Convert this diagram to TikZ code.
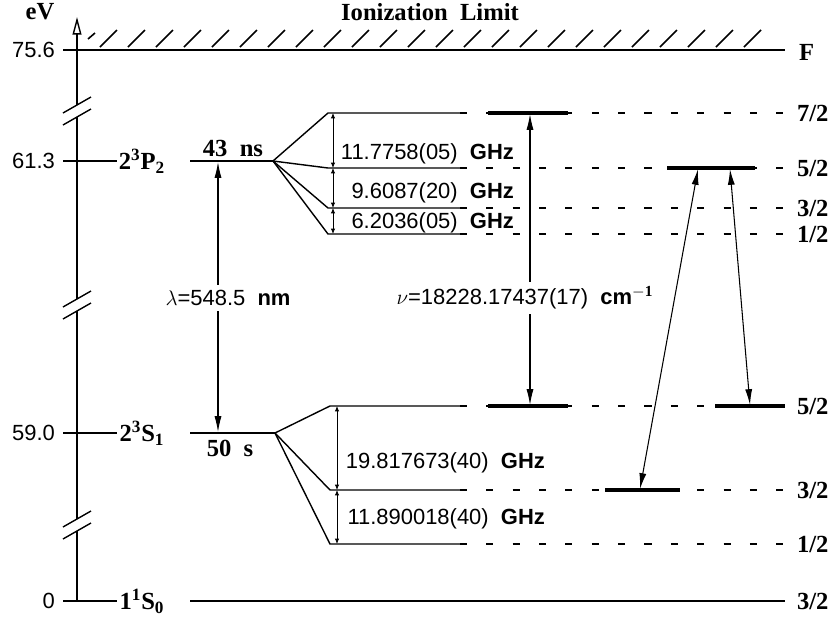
\documentclass[tikz,border=0pt]{standalone}
\usepackage{fontspec}
\setmainfont{Liberation Serif}
\newfontfamily\numfont{Liberation Sans}
\usetikzlibrary{arrows.meta, positioning}

\begin{document}
\begin{tikzpicture}[x=0.02cm, y=-0.02cm,
        lvl/.style={draw, line width=0.8pt},
        bar/.style={draw, line width=2pt},
        hfdash/.style={draw, line width=0.8pt, dash pattern=on 4pt off 11pt},
        split/.style={draw, line width=0.5pt, arrows={Latex[length=3pt,width=2.5pt]-Latex[length=3pt,width=2.5pt]}},
        trans/.style={draw, line width=0.6pt, arrows={Latex[length=9pt,width=4pt]-Latex[length=9pt,width=4pt]}},
        lab/.style={font=\fontsize{14}{16}\selectfont\bfseries, inner sep=1pt},
        num/.style={font=\fontsize{12.5}{15}\selectfont\numfont, inner sep=1pt}]

        \useasboundingbox (0,0) rectangle (840,619);

        % energy axis with breaks
        \coordinate (ax-bot) at (77,601);
        \coordinate (ax-top) at (77,17);
        \draw[line width=0.8pt] (ax-bot) -- (77,531) (77,519) -- (77,311) (77,299) -- (77,117);
        \draw[line width=0.8pt, -{Triangle[open,length=10pt,width=5pt]}] (77,105) -- (ax-top);
        \foreach \yb in {113,307,527} {
            \draw[line width=0.8pt] (63,\yb) -- (91,\yb-16);
            \draw[line width=0.8pt] (63,\yb+12) -- (91,\yb-4);
        }

        \node[lab] (ev) at (40,12) {eV};
        \node[num, anchor=east] (e756) at (57,50) {75.6};
        \node[num, anchor=east] (e613) at (57,161) {61.3};
        \node[num, anchor=east] (e590) at (57,433) {59.0};
        \node[num, anchor=east] (e0) at (57,601) {0};

        % ionization limit
        \coordinate (ion-l) at (63,50);
        \coordinate (ion-r) at (785,50);
        \path[lvl] (ion-l) -- (ion-r);
        \foreach \x in {100,128,...,770}
            \draw[line width=0.9pt] (\x,47) -- (\x+17,30);
        \draw[line width=0.9pt] (88,39) -- (95,33);
        \node[lab] (ion) at (430,12) {Ionization~ Limit};
        \node[lab, anchor=west] (fhead) at (797,52) {F};

        % fine structure levels
        \coordinate (t-p) at (63,161);
        \coordinate (t-s) at (63,433);
        \coordinate (t-g) at (63,601);
        \node[lab] (p2) at (142,161) {2$^{\mathbf{3}}$P$_{\mathbf{2}}$};
        \node[lab] (s1) at (142,433) {2$^{\mathbf{3}}$S$_{\mathbf{1}}$};
        \node[lab] (s0) at (142,601) {1$^{\mathbf{1}}$S$_{\mathbf{0}}$};
        \path[lvl] (t-p) -- (p2.west);
        \path[lvl] (t-s) -- (s1.west);
        \path[lvl] (t-g) -- (s0.west);

        \coordinate (p-in) at (190,161);
        \coordinate (p) at (273,161);
        \coordinate (s-in) at (190,433);
        \coordinate (s) at (275,433);
        \coordinate (g-in) at (190,601);
        \coordinate (g-out) at (785,601);
        \path[lvl] (p-in) -- (p);
        \path[lvl] (s-in) -- (s);
        \path[lvl] (g-in) -- (g-out);
        \node[lab] (tp) at (233,148) {43~~ns};
        \node[lab] (ts) at (230,448) {50~~s};

        % hyperfine levels of 2^3P_2
        \foreach \n/\y in {7/113, 5/168, 3/208, 1/234} {
            \coordinate (p\n) at (328,\y);
            \coordinate (p\n-e) at (460,\y);
            \coordinate (p\n-f) at (790,\y);
            \path[lvl] (p) -- (p\n) -- (p\n-e);
            \path[hfdash] (p\n-e) -- (p\n-f);
        }
        % hyperfine levels of 2^3S_1
        \foreach \n/\y in {5/406, 3/490, 1/544} {
            \coordinate (s\n) at (330,\y);
            \coordinate (s\n-e) at (460,\y);
            \coordinate (s\n-f) at (790,\y);
            \path[lvl] (s) -- (s\n) -- (s\n-e);
            \path[hfdash] (s\n-e) -- (s\n-f);
        }

        \node[lab, anchor=west] (fp7) at (795,113) {7/2};
        \node[lab, anchor=west] (fp5) at (795,168) {5/2};
        \node[lab, anchor=west] (fp3) at (795,208) {3/2};
        \node[lab, anchor=west] (fp1) at (795,234) {1/2};
        \node[lab, anchor=west] (fs5) at (795,406) {5/2};
        \node[lab, anchor=west] (fs3) at (795,490) {3/2};
        \node[lab, anchor=west] (fs1) at (795,544) {1/2};
        \node[lab, anchor=west] (fg) at (795,601) {3/2};

        % levels used in the transitions
        \coordinate (b1-l) at (488,113);
        \coordinate (b1-r) at (568,113);
        \coordinate (b2-l) at (667,168);
        \coordinate (b2-r) at (755,168);
        \coordinate (b3-l) at (488,406);
        \coordinate (b3-r) at (568,406);
        \coordinate (b4-l) at (715,406);
        \coordinate (b4-r) at (785,406);
        \coordinate (b5-l) at (605,490);
        \coordinate (b5-r) at (680,490);
        \path[bar] (b1-l) -- (b1-r);
        \path[bar] (b2-l) -- (b2-r);
        \path[bar] (b3-l) -- (b3-r);
        \path[bar] (b4-l) -- (b4-r);
        \path[bar] (b5-l) -- (b5-r);

        % splittings
        \path[split] (333,113) -- (333,168);
        \path[split] (333,168) -- (333,208);
        \path[split] (333,208) -- (333,234);
        \path[split] (337,406) -- (337,490);
        \path[split] (337,490) -- (337,544);
        \node[num, anchor=east] (hp1) at (516,154) {11.7758(05)~~\textbf{GHz}};
        \node[num, anchor=east] (hp2) at (516,193) {9.6087(20)~~\textbf{GHz}};
        \node[num, anchor=east] (hp3) at (516,223) {6.2036(05)~~\textbf{GHz}};
        \node[num, anchor=east] (hs1) at (547,463) {19.817673(40)~~\textbf{GHz}};
        \node[num, anchor=east] (hs2) at (547,519) {11.890018(40)~~\textbf{GHz}};

        % optical transitions
        \coordinate (lam-t) at (218,162);
        \coordinate (lam-b) at (218,432);
        \path[trans] (lam-t) -- (lam-b);
        \node[num, fill=white, inner sep=3pt] (lam) at (228,298) {$\lambda$=548.5~~\textbf{nm}};

        \coordinate (nu-t) at (530,114);
        \coordinate (nu-b) at (530,405);
        \path[trans] (nu-t) -- (nu-b);
        \node[num, fill=white, inner sep=3pt] (nu) at (525,298) {$\nu$=18228.17437(17)~~\textbf{cm$^{\mathbf{-1}}$}};

        \coordinate (a1-t) at (698,169);
        \coordinate (a1-b) at (640,489);
        \coordinate (a2-t) at (730,169);
        \coordinate (a2-b) at (750,405);
        \path[trans] (a1-t) -- (a1-b);
        \path[trans] (a2-t) -- (a2-b);
\end{tikzpicture}
\end{document}
